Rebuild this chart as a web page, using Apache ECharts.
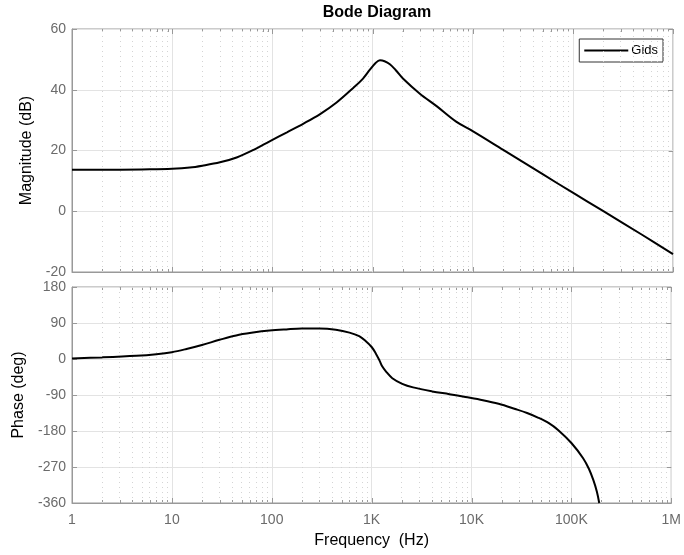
<!DOCTYPE html>
<html>
<head>
<meta charset="utf-8">
<script src="https://cdn.jsdelivr.net/npm/echarts@6/dist/echarts.min.js"></script>
<style>html,body{margin:0;padding:0;background:#fff;}#c{width:684px;height:555px;}</style>
</head>
<body>
<div id="c"></div>
<script>
// ---- Data ----
var magFreq = [1, 3, 6, 10, 15, 20, 30, 44, 65, 95, 140, 203, 300, 438, 642, 800, 942, 1080, 1186, 1320, 1491, 1700, 2024, 2970, 4365, 6900, 10000, 20000, 50000, 100000, 200000, 500000, 1000000];
var magDb   = [13.7, 13.7, 13.8, 14.0, 14.4, 15.0, 16.1, 17.7, 20.2, 23.1, 26.0, 28.8, 32.0, 35.8, 40.6, 43.6, 46.6, 48.9, 49.7, 49.4, 48.4, 46.5, 43.6, 38.7, 34.6, 29.4, 26.4, 20.3, 12.2, 6.1, 0.1, -7.9, -14.1];

var phaseFreq = [1, 2, 4.4, 7, 10, 14, 20, 30, 44, 65, 95, 140, 200, 300, 438, 600, 750, 870, 1000, 1100, 1200, 1280, 1400, 1610, 2024, 2600, 4035, 6000, 8690, 13000, 18670, 27400, 36000, 46800, 60000, 74000, 100000, 131000, 150000, 166000, 180000, 190000];
var phaseDeg  = [1.5, 4, 8, 12, 17, 25, 35, 48, 59, 66, 71, 74, 76, 76, 73, 66, 57, 45, 30, 14, -4, -19, -32, -48, -62, -71, -81, -88, -95, -103, -112, -125, -135, -147, -161, -178, -210, -248, -275, -303, -332, -360];

var xTickLabels = ['1', '10', '100', '1K', '10K', '100K', '1M'];
var magTicks = [-20, 0, 20, 40, 60];
var phaseTicks = [-360, -270, -180, -90, 0, 90, 180];

// minor log positions (2..9 per decade)
var minorX = [];
for (var d = 0; d < 6; d++) for (var k = 2; k <= 9; k++) minorX.push(k * Math.pow(10, d));
var majorX = [1, 10, 100, 1000, 10000, 100000, 1000000];

var FONT = 'Liberation Sans, Arial, Helvetica, sans-serif';
var AX = '#999999';
var LBL = '#6b6b6b';

function pair(xs, ys) { return xs.map(function (x, i) { return [x, ys[i]]; }); }

function xAxisCfg(gridIndex, showLabels) {
  return {
    type: 'log', logBase: 10, min: 1, max: 1000000, gridIndex: gridIndex,
    axisLine: { show: true, onZero: false, lineStyle: { color: AX, width: 1 } },
    axisTick: { show: false },
    splitLine: { show: true, lineStyle: { color: '#e3e3e3', width: 1 } },
    axisLabel: {
      show: showLabels, color: LBL, fontSize: 14, fontFamily: FONT, margin: 10,
      formatter: function (v) { return xTickLabels[Math.round(Math.log10(v))]; }
    },
    name: showLabels ? 'Frequency  (Hz)' : '',
    nameLocation: 'middle', nameGap: 30,
    nameTextStyle: { color: '#000', fontSize: 16, fontFamily: FONT }
  };
}
function yAxisCfg(gridIndex, min, max, interval, name, gap) {
  return {
    type: 'value', gridIndex: gridIndex, min: min, max: max, interval: interval,
    axisLine: { show: true, onZero: false, lineStyle: { color: AX, width: 1 } },
    axisTick: { show: true, inside: true, length: 5, lineStyle: { color: AX } },
    splitLine: { show: true, lineStyle: { color: '#e3e3e3', width: 1 } },
    axisLabel: { color: LBL, fontSize: 14, fontFamily: FONT, margin: 6 },
    name: name, nameLocation: 'middle', nameGap: gap, nameRotate: 90,
    nameTextStyle: { color: '#000', fontSize: 16, fontFamily: FONT }
  };
}

function tickSeries(gi, ymin, ymax, yTicks) {
  var items = [];
  majorX.forEach(function (f) { items.push([f, ymin, 5, 0]); });
  minorX.forEach(function (f) { items.push([f, ymin, 3, 0]); });
  yTicks.forEach(function (y) { items.push([1000000, y, 5, 1]); });
  return {
    type: 'custom', xAxisIndex: gi, yAxisIndex: gi, silent: true, z: 3,
    data: items,
    renderItem: function (params, api) {
      var kind = api.value(3), len = api.value(2);
      var style = { stroke: AX, lineWidth: 1 };
      if (kind === 0) {
        var f = api.value(0);
        var pb = api.coord([f, ymin]), pt = api.coord([f, ymax]);
        var xs = Math.round(pb[0]) + 0.5;
        return { type: 'group', children: [
          { type: 'line', shape: { x1: xs, y1: pb[1], x2: xs, y2: pb[1] - len }, style: style },
          { type: 'line', shape: { x1: xs, y1: pt[1], x2: xs, y2: pt[1] + len }, style: style }
        ]};
      } else {
        var p = api.coord([api.value(0), api.value(1)]);
        var ys = Math.round(p[1]) + 0.5;
        return { type: 'line', shape: { x1: p[0], y1: ys, x2: p[0] - len, y2: ys }, style: style };
      }
    }
  };
}

function minorGridSeries(gi) {
  return {
    type: 'line', xAxisIndex: gi, yAxisIndex: gi, data: [], silent: true, z: 1,
    markLine: {
      silent: true, symbol: ['none', 'none'], label: { show: false }, animation: false,
      lineStyle: { color: '#d4d4d4', type: [1, 4], width: 1 },
      data: minorX.map(function (f) { return { xAxis: f }; })
    }
  };
}

var chart = echarts.init(document.getElementById('c'), null, { renderer: 'canvas' });
chart.setOption({
  animation: false,
  backgroundColor: '#fff',
  title: {
    text: 'Bode Diagram', left: 372, top: 0, textAlign: 'center',
    textStyle: { fontFamily: FONT, fontSize: 16, fontWeight: 'bold', color: '#000' }
  },
  legend: {
    data: [{ name: 'Gids', icon: 'rect' }],
    right: 21, top: 39, orient: 'horizontal',
    backgroundColor: '#fff', borderColor: '#333', borderWidth: 1, borderRadius: 0,
    padding: [5, 5, 5, 5], itemWidth: 44, itemHeight: 2, itemGap: 4,
    textStyle: { fontFamily: FONT, fontSize: 13, color: '#000', padding: [0, 0, 0, -2] },
    itemStyle: { color: '#000' }
  },
  grid: [
    { left: 72, right: 11, top: 29, height: 243, show: true, borderColor: AX, borderWidth: 1, backgroundColor: 'transparent' },
    { left: 72, right: 11, top: 287, height: 216, show: true, borderColor: AX, borderWidth: 1, backgroundColor: 'transparent' }
  ],
  xAxis: [xAxisCfg(0, false), xAxisCfg(1, true)],
  yAxis: [
    yAxisCfg(0, -20, 60, 20, 'Magnitude (dB)', 35),
    yAxisCfg(1, -360, 180, 90, 'Phase (deg)', 41)
  ],
  series: [
    minorGridSeries(0),
    minorGridSeries(1),
    tickSeries(0, -20, 60, magTicks),
    tickSeries(1, -360, 180, phaseTicks),
    {
      name: 'Gids', type: 'line', xAxisIndex: 0, yAxisIndex: 0, z: 5,
      data: pair(magFreq, magDb), smooth: 0.35, showSymbol: false, symbol: 'none',
      lineStyle: { color: '#000', width: 2 }, itemStyle: { color: '#000' }
    },
    {
      name: 'Gids', type: 'line', xAxisIndex: 1, yAxisIndex: 1, z: 5,
      data: pair(phaseFreq, phaseDeg), smooth: 0.35, showSymbol: false, symbol: 'none',
      lineStyle: { color: '#000', width: 2 }, itemStyle: { color: '#000' }
    }
  ]
});
</script>
</body>
</html>
